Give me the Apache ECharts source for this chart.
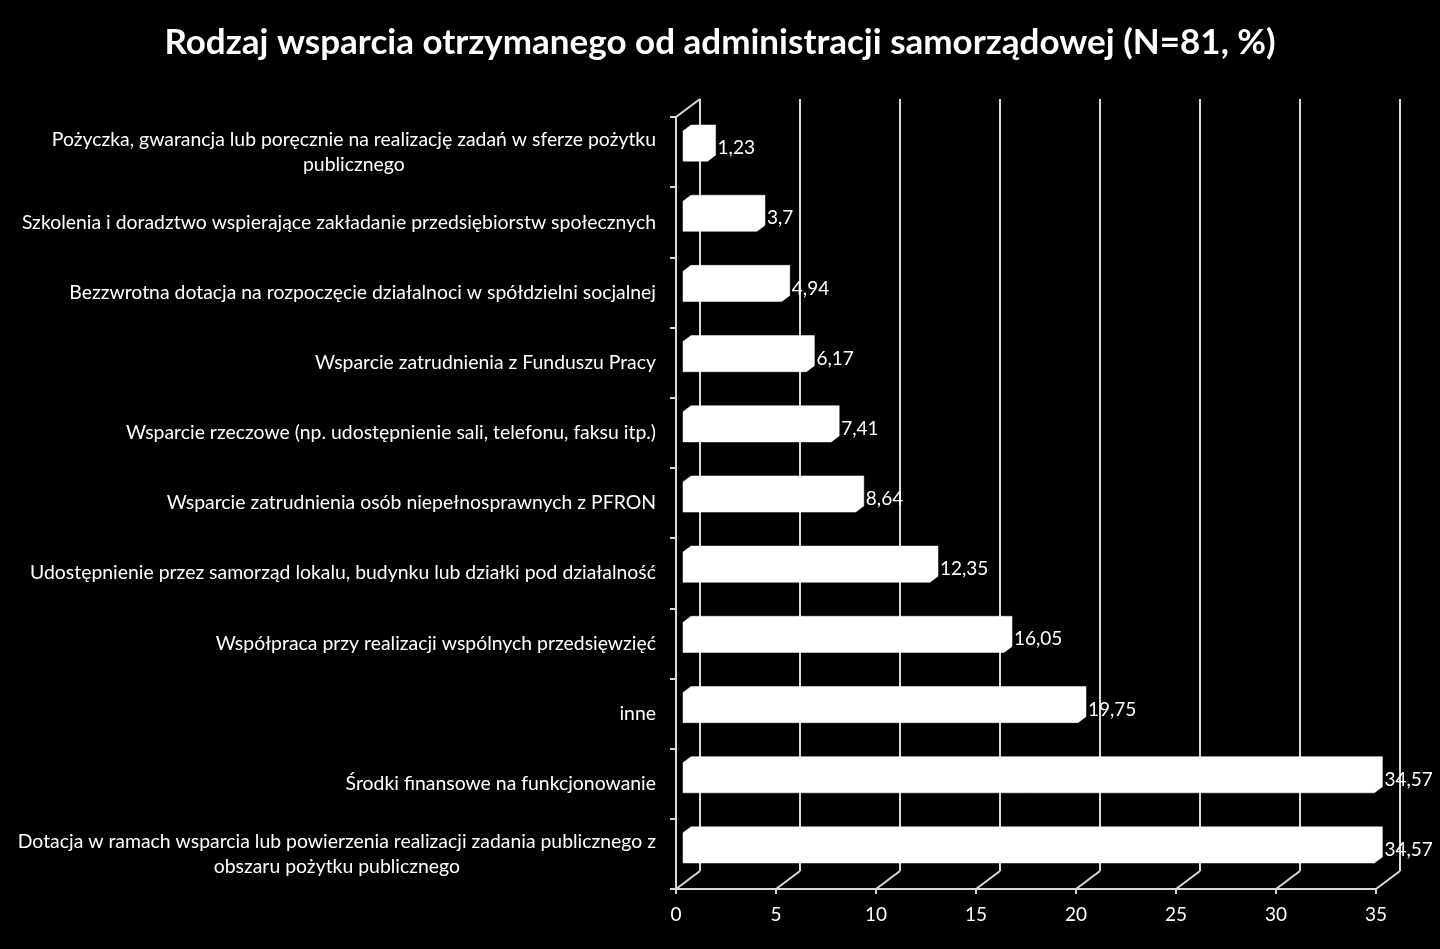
<!DOCTYPE html>
<html>
<head>
<meta charset="utf-8">
<script src="https://cdn.jsdelivr.net/npm/echarts@6/dist/echarts.min.js"></script>
<style>
html,body{margin:0;padding:0;background:#000;}
#c{width:1440px;height:949px;}
</style>
</head>
<body>
<div id="c"></div>
<script>
const titleText = 'Rodzaj wsparcia otrzymanego od administracji samorządowej (N=81, %)';
const categories = [
  'Pożyczka, gwarancja lub poręcznie na realizację zadań w sferze pożytku\npublicznego',
  'Szkolenia i doradztwo wspierające zakładanie przedsiębiorstw społecznych',
  'Bezzwrotna dotacja na rozpoczęcie działalnoci w spółdzielni socjalnej',
  'Wsparcie zatrudnienia z Funduszu Pracy',
  'Wsparcie rzeczowe (np. udostępnienie sali, telefonu, faksu itp.)',
  'Wsparcie zatrudnienia osób niepełnosprawnych z PFRON',
  'Udostępnienie przez samorząd lokalu, budynku lub działki pod działalność',
  'Współpraca przy realizacji wspólnych przedsięwzięć',
  'inne',
  'Środki finansowe na funkcjonowanie',
  'Dotacja w ramach wsparcia lub powierzenia realizacji zadania publicznego z\nobszaru pożytku publicznego'
];
const values = [1.23, 3.7, 4.94, 6.17, 7.41, 8.64, 12.35, 16.05, 19.75, 34.57, 34.57];
const xTicks = [0, 5, 10, 15, 20, 25, 30, 35];

const FONT = 'Lato';
const FS = 19;
const CFS = 19.4;
const LINE = '#d9d9d9';
const DX = 24, DY = -18;      // back-wall offset
const FX = 7, FY = -6;        // bar front-face offset
const BX = 8, BY = -6;        // bar depth

const chart = echarts.init(document.getElementById('c'), null, {renderer: 'canvas'});

function fmt(v){ return String(v).replace('.', ','); }

const option = {
  backgroundColor: '#000',
  animation: false,
  title: {
    text: titleText,
    left: 'center',
    top: 20,
    textStyle: {color: '#fff', fontFamily: FONT, fontWeight: 'bold', fontSize: 35}
  },
  grid: {left: 676, right: 64, top: 117, bottom: 60, containLabel: false},
  xAxis: {
    type: 'value', min: 0, max: 35, interval: 5,
    axisLine: {show: true, lineStyle: {color: LINE, width: 2}},
    axisTick: {show: true, length: 5, lineStyle: {color: LINE, width: 2}},
    axisLabel: {color: '#fff', fontFamily: FONT, fontSize: FS, margin: 16},
    splitLine: {show: false}
  },
  yAxis: {
    type: 'category', data: categories, inverse: true,
    axisLine: {show: true, lineStyle: {color: LINE, width: 2}},
    axisTick: {show: true, length: 6, lineStyle: {color: LINE, width: 2}},
    axisLabel: {
      color: '#fff', fontFamily: FONT, fontSize: CFS, margin: 20, lineHeight: 25,
      formatter: function (v) { return v.split('\n').map(s => '{c|' + s + '}').join('\n'); },
      rich: {c: {align: 'center', color: '#fff', fontFamily: FONT, fontSize: CFS, lineHeight: 25}}
    }
  },
  series: [
    {
      type: 'custom',
      name: 'frame',
      z: 1,
      silent: true,
      data: xTicks.map(t => [t, 0]),
      encode: {x: 0, y: 1},
      renderItem: function (params, api) {
        const cs = params.coordSys;
        const t = api.value(0);
        const x = api.coord([t, 0])[0];
        const yb = cs.y + cs.height, yt = cs.y;
        const children = [
          {type: 'line', shape: {x1: x, y1: yb, x2: x + DX, y2: yb + DY}, style: {stroke: LINE, lineWidth: 2}},
          {type: 'line', shape: {x1: x + DX, y1: yb + DY, x2: x + DX, y2: yt + DY}, style: {stroke: LINE, lineWidth: 2}}
        ];
        if (params.dataIndex === 0) {
          children.push({type: 'line', shape: {x1: x, y1: yt, x2: x + DX, y2: yt + DY}, style: {stroke: LINE, lineWidth: 2}});
        }
        return {type: 'group', children: children};
      }
    },
    {
      type: 'custom',
      name: 'bars',
      z: 5,
      data: values.map((v, i) => [v, i]),
      encode: {x: 0, y: 1},
      renderItem: function (params, api) {
        const v = api.value(0), idx = api.value(1);
        const c0 = api.coord([0, idx]);
        const c1 = api.coord([v, idx]);
        const band = api.size([0, 1])[1];
        const h = band * 0.43;
        const x0 = c0[0] + FX, x1 = c1[0] + FX;
        const yc = c0[1] + FY;
        const yt = yc - h / 2, yb = yc + h / 2;
        const pts = [[x0, yt], [x0 + BX, yt + BY], [x1 + BX, yt + BY], [x1 + BX, yb + BY], [x1, yb], [x0, yb]];
        return {
          type: 'group',
          children: [
            {type: 'polygon', shape: {points: pts}, style: {fill: '#ffffff', stroke: '#ffffff', lineWidth: 0.5}},
            {type: 'text', x: x1 + BX + 2, y: yc + 2,
              style: {text: fmt(v), fill: '#fff', font: FS + 'px ' + FONT, textAlign: 'left', textVerticalAlign: 'middle'}}
          ]
        };
      }
    }
  ]
};
chart.setOption(option);
</script>
</body>
</html>
